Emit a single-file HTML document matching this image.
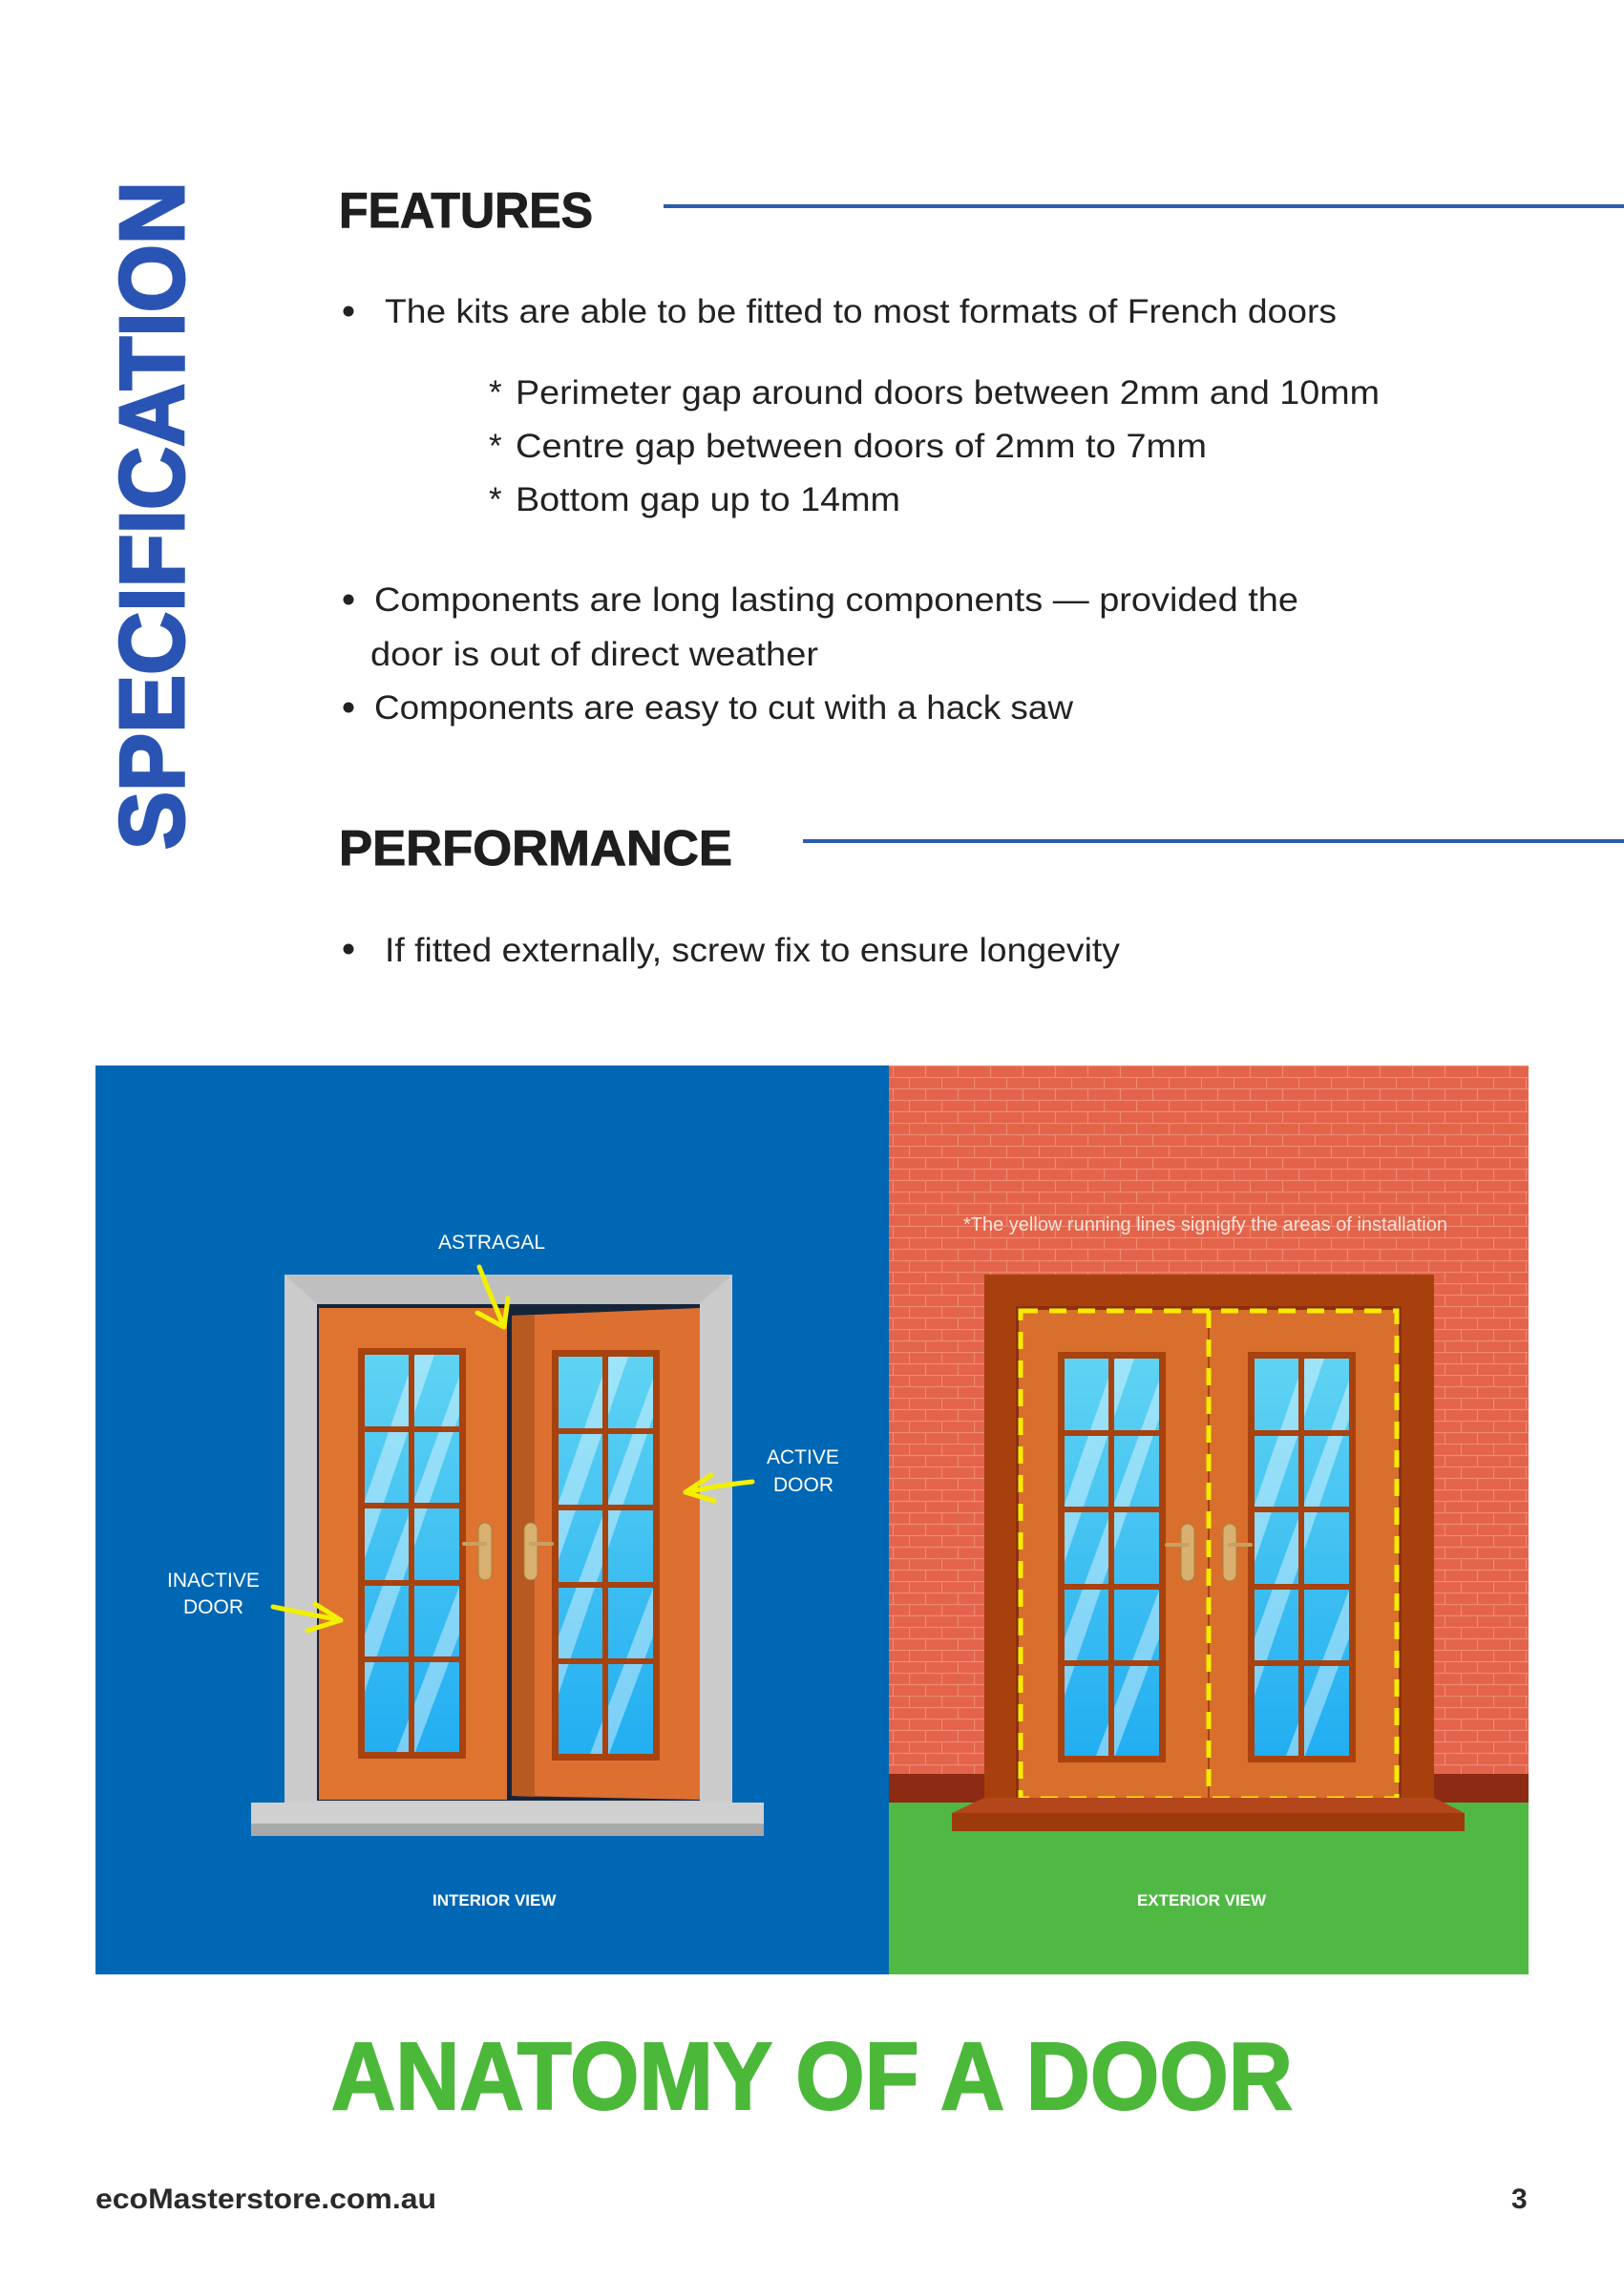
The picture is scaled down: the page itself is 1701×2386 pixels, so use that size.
<!DOCTYPE html>
<html><head><meta charset="utf-8"><style>
html,body{margin:0;padding:0;background:#fff}
svg{display:block}
</style></head><body>
<svg width="1701" height="2386" viewBox="0 0 1701 2386" xmlns="http://www.w3.org/2000/svg" font-family="Liberation Sans, sans-serif">
<defs>
<pattern id="brick" width="34" height="24" patternUnits="userSpaceOnUse">
<rect width="34" height="24" fill="#e3644a"/>
<path d="M0 0.5H34M0 12.5H34M0.5 0V12M17.5 12V24" stroke="#ee8a72" stroke-width="1.2" fill="none"/>
</pattern>
<linearGradient id="glass" x1="0" y1="0" x2="0" y2="1">
<stop offset="0" stop-color="#5fd3f3"/><stop offset="1" stop-color="#22aef2"/>
</linearGradient>
<g id="pane">
<rect x="0" y="0" width="113" height="430" fill="#a8420f"/>
<rect x="7" y="7" width="99" height="416" fill="url(#glass)"/>
<path d="M7 160L60 7H80L7 220Z M7 300L106 30V70L7 360Z M40 423L106 250V300L60 423Z" fill="#ffffff" opacity="0.4"/>
<rect x="53" y="7" width="6" height="416" fill="#a8420f"/>
<rect x="7" y="82" width="99" height="6" fill="#a8420f"/>
<rect x="7" y="162" width="99" height="6" fill="#a8420f"/>
<rect x="7" y="243" width="99" height="6" fill="#a8420f"/>
<rect x="7" y="323" width="99" height="6" fill="#a8420f"/>
</g>
<g id="handle">
<rect x="-7" y="0" width="14" height="60" rx="7" fill="#d8b070" stroke="#a98040" stroke-width="1"/>
<path d="M0 22 H-22" stroke="#c9a060" stroke-width="4" stroke-linecap="round"/>
</g>
<g id="handleR">
<rect x="-7" y="0" width="14" height="60" rx="7" fill="#d8b070" stroke="#a98040" stroke-width="1"/>
<path d="M0 22 H22" stroke="#c9a060" stroke-width="4" stroke-linecap="round"/>
</g>
</defs>

<text transform="translate(192,890) rotate(-90)" font-size="96" font-weight="bold" fill="#2a54b4" stroke="#2a54b4" stroke-width="3" textLength="700" lengthAdjust="spacingAndGlyphs">SPECIFICATION</text>

<text x="355" y="238" font-size="52" font-weight="bold" fill="#1e1e1e" stroke="#1e1e1e" stroke-width="1" textLength="266" lengthAdjust="spacingAndGlyphs">FEATURES</text>
<rect x="695" y="214" width="1006" height="4" fill="#2a5db0"/>

<g font-size="35" fill="#222">
<circle cx="365" cy="326" r="5.5" fill="#222"/>
<text x="403" y="338" textLength="997" lengthAdjust="spacingAndGlyphs">The kits are able to be fitted to most formats of French doors</text>
<text x="512" y="423">*</text><text x="540" y="423" textLength="905" lengthAdjust="spacingAndGlyphs">Perimeter gap around doors between 2mm and 10mm</text>
<text x="512" y="479">*</text><text x="540" y="479" textLength="724" lengthAdjust="spacingAndGlyphs">Centre gap between doors of 2mm to 7mm</text>
<text x="512" y="535">*</text><text x="540" y="535" textLength="403" lengthAdjust="spacingAndGlyphs">Bottom gap up to 14mm</text>
<circle cx="365" cy="628" r="5.5" fill="#222"/>
<text x="392" y="640" textLength="968" lengthAdjust="spacingAndGlyphs">Components are long lasting components — provided the</text>
<text x="388" y="697" textLength="469" lengthAdjust="spacingAndGlyphs">door is out of direct weather</text>
<circle cx="365" cy="741" r="5.5" fill="#222"/>
<text x="392" y="753" textLength="732" lengthAdjust="spacingAndGlyphs">Components are easy to cut with a hack saw</text>
<circle cx="365" cy="994" r="5.5" fill="#222"/>
<text x="403" y="1007" textLength="770" lengthAdjust="spacingAndGlyphs">If fitted externally, screw fix to ensure longevity</text>
</g>

<text x="355" y="906" font-size="52" font-weight="bold" fill="#1e1e1e" stroke="#1e1e1e" stroke-width="1" textLength="412" lengthAdjust="spacingAndGlyphs">PERFORMANCE</text>
<rect x="841" y="879" width="860" height="4" fill="#2a5db0"/>

<!-- Interior panel -->
<rect x="100" y="1116" width="831" height="952" fill="#0067b4"/>
<rect x="298" y="1335" width="469" height="553" fill="#cbcbcb"/>
<polygon points="298,1335 767,1335 732,1366 332,1366" fill="#bfbfbf"/>
<rect x="332" y="1366" width="401" height="520" fill="#16243a"/>
<rect x="334" y="1370" width="197" height="515" fill="#de7430"/>
<use href="#pane" x="375" y="1412"/>
<polygon points="536,1378 733,1370 733,1885 536,1881" fill="#dd7030"/>
<polygon points="536,1378 560,1377 560,1882 536,1881" fill="#b65a22"/>
<use href="#pane" x="578" y="1414"/>
<use href="#handle" x="508" y="1595"/>
<use href="#handleR" x="556" y="1595"/>
<rect x="263" y="1888" width="537" height="22" fill="#d0d0d0"/>
<rect x="263" y="1910" width="537" height="13" fill="#a9a9a9"/>

<!-- Exterior panel -->
<rect x="931" y="1116" width="670" height="952" fill="url(#brick)"/>
<rect x="931" y="1858" width="670" height="30" fill="#8c2a14"/>
<rect x="931" y="1888" width="670" height="180" fill="#4fb944"/>
<rect x="1031" y="1335" width="471" height="553" fill="#a8400e"/>
<rect x="1064" y="1368" width="404" height="520" fill="#8a3010"/>
<rect x="1067" y="1372" width="398" height="514" fill="#d96f2c"/>
<rect x="1265" y="1372" width="2" height="514" fill="#a8420f"/>
<use href="#pane" x="1108" y="1416"/>
<use href="#pane" x="1307" y="1416"/>
<use href="#handle" x="1244" y="1596"/>
<use href="#handleR" x="1288" y="1596"/>
<rect x="1069" y="1373" width="394" height="511" fill="none" stroke="#f5ec00" stroke-width="5" stroke-dasharray="18,12"/>
<line x1="1266" y1="1373" x2="1266" y2="1884" stroke="#f5ec00" stroke-width="5" stroke-dasharray="18,12"/>
<polygon points="1031,1883 1502,1883 1534,1899 997,1899" fill="#b3461a"/>
<rect x="997" y="1899" width="537" height="19" fill="#9c3a0c"/>

<g fill="#fff" font-size="21">
<text x="459" y="1308">ASTRAGAL</text>
<text x="175" y="1662">INACTIVE</text>
<text x="192" y="1690">DOOR</text>
<text x="803" y="1533">ACTIVE</text>
<text x="810" y="1562">DOOR</text>
</g>
<text x="1009" y="1289" font-size="20" fill="#fbe3da">*The yellow running lines signigfy the areas of installation</text>
<text x="453" y="1996" font-size="17" font-weight="bold" fill="#fff">INTERIOR VIEW</text>
<text x="1191" y="1996" font-size="17" font-weight="bold" fill="#fff">EXTERIOR VIEW</text>

<g stroke="#f2f000" stroke-width="5" fill="none" stroke-linecap="round" stroke-linejoin="round">
<path d="M502 1327 Q515 1360 528 1390"/><path d="M500 1375 L528 1390 L532 1360"/>
<path d="M286 1683 Q320 1690 357 1697"/><path d="M330 1680 L357 1697 L322 1708"/>
<path d="M788 1552 Q750 1556 718 1563"/><path d="M745 1545 L718 1563 L748 1572"/>
</g>

<text x="347" y="2209" font-size="100" font-weight="bold" fill="#4cb83a" stroke="#4cb83a" stroke-width="2" textLength="1007" lengthAdjust="spacingAndGlyphs">ANATOMY OF A DOOR</text>
<text x="100" y="2313" font-size="30" font-weight="bold" fill="#2a2a2a" textLength="357" lengthAdjust="spacingAndGlyphs">ecoMasterstore.com.au</text>
<text x="1583" y="2313" font-size="30" font-weight="bold" fill="#2a2a2a">3</text>
</svg>
</body></html>
